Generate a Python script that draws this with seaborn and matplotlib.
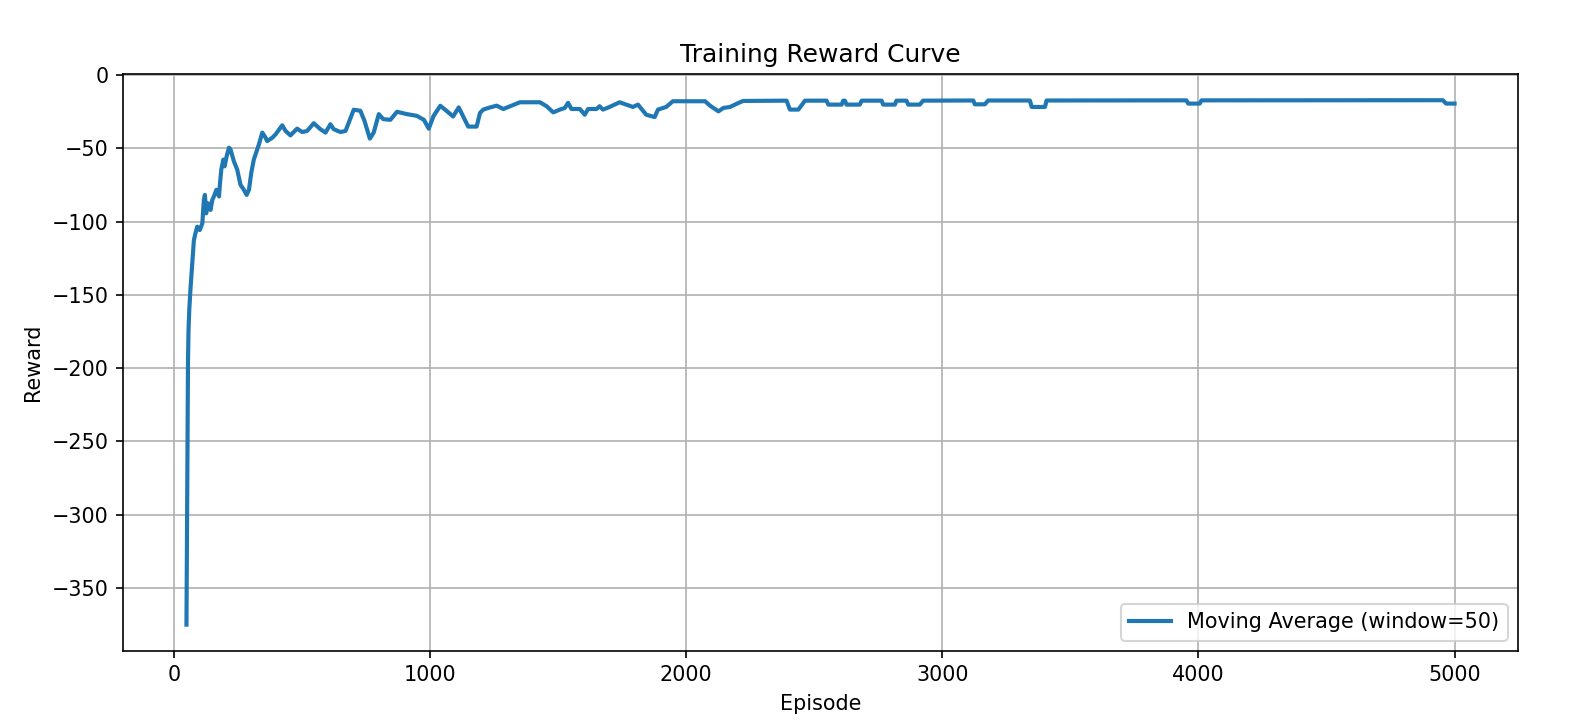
import matplotlib
matplotlib.use("Agg")
import matplotlib.pyplot as plt
import pandas as pd
import seaborn as sns

# moving average of the episode reward
episodes = [
    49, 52, 55, 57, 60, 65, 78, 84, 91, 101, 111, 117, 121, 126, 133, 143, 150, 156,
    166, 176, 180, 185, 193, 198, 206, 215, 221, 234, 247, 260, 273, 284, 293, 302,
    312, 323, 332, 345, 358, 364, 384, 397, 423, 436, 455, 481, 501, 520, 546, 572,
    592, 611, 624, 650, 670, 683, 702, 728, 744, 765, 780, 800, 817, 845, 871, 910,
    949, 976, 995, 1014, 1040, 1064, 1090, 1112, 1136, 1149, 1182, 1195, 1208, 1227,
    1260, 1286, 1318, 1351, 1429, 1455, 1481, 1507, 1526, 1539, 1552, 1585, 1604,
    1617, 1650, 1662, 1675, 1701, 1740, 1766, 1792, 1812, 1844, 1877, 1890, 1922,
    1948, 2074, 2093, 2126, 2145, 2171, 2210, 2223, 2392, 2405, 2438, 2464, 2548,
    2555, 2607, 2613, 2620, 2626, 2678, 2685, 2763, 2769, 2815, 2821, 2860, 2867,
    2912, 2925, 3121, 3127, 3166, 3179, 3342, 3349, 3401, 3407, 3953, 3960, 4005,
    4012, 4954, 4967, 5000,
]
moving_avg = [
    -375.0, -290.0, -195.0, -174.0, -160.0, -145.0, -112.6, -108.0, -103.4, -105.7,
    -101.1, -85.1, -81.7, -94.3, -87.4, -92.0, -85.1, -82.8, -78.2, -82.8, -73.6,
    -64.4, -57.6, -62.2, -55.3, -49.5, -50.7, -58.7, -64.4, -74.8, -78.2, -81.7,
    -78.2, -66.7, -57.6, -51.8, -47.2, -39.2, -42.7, -45.0, -42.7, -40.4, -34.2,
    -38.1, -41.1, -36.5, -38.8, -38.1, -32.8, -36.9, -39.2, -33.5, -36.9, -38.8,
    -38.1, -32.3, -23.6, -24.3, -31.2, -43.3, -39.2, -26.6, -30.0, -30.5, -25.0,
    -26.6, -27.8, -30.5, -36.5, -27.8, -20.9, -24.3, -28.2, -22.0, -30.4, -35.1,
    -35.1, -25.8, -23.5, -22.4, -20.8, -23.1, -20.8, -18.5, -18.5, -21.2, -25.4,
    -23.5, -22.4, -18.9, -23.1, -23.1, -27.0, -23.1, -23.1, -21.2, -23.5, -21.7,
    -18.5, -20.1, -21.7, -20.1, -27.0, -28.6, -23.5, -21.7, -17.8, -17.8, -20.8,
    -24.7, -22.4, -21.7, -18.5, -17.6, -17.4, -23.5, -23.5, -17.4, -17.4, -20.1,
    -20.1, -17.4, -17.4, -20.1, -20.1, -17.4, -17.4, -20.1, -20.1, -17.4, -17.4,
    -20.1, -20.1, -17.4, -17.3, -19.9, -19.9, -17.3, -17.3, -21.7, -21.7, -17.3,
    -17.2, -19.4, -19.4, -17.2, -17.1, -19.4, -19.4,
]
line_label = "Moving Average (window=50)"

df = pd.DataFrame({"Episode": episodes, "Reward": moving_avg})

dpi = 149
fig = plt.figure(figsize=(1594 / dpi, 724 / dpi), dpi=dpi)
ax = fig.add_axes([0.0772, 0.101, 0.9523 - 0.0772, 0.8978 - 0.101])

sns.lineplot(data=df, x="Episode", y="Reward", ax=ax, color="#1f77b4",
             linewidth=2, label=line_label)

ax.set_title("Training Reward Curve")
ax.set_xlabel("Episode")
ax.set_ylabel("Reward")
ax.grid(True)
ax.legend(loc="lower right")

fig.savefig("out.png", dpi=dpi)
